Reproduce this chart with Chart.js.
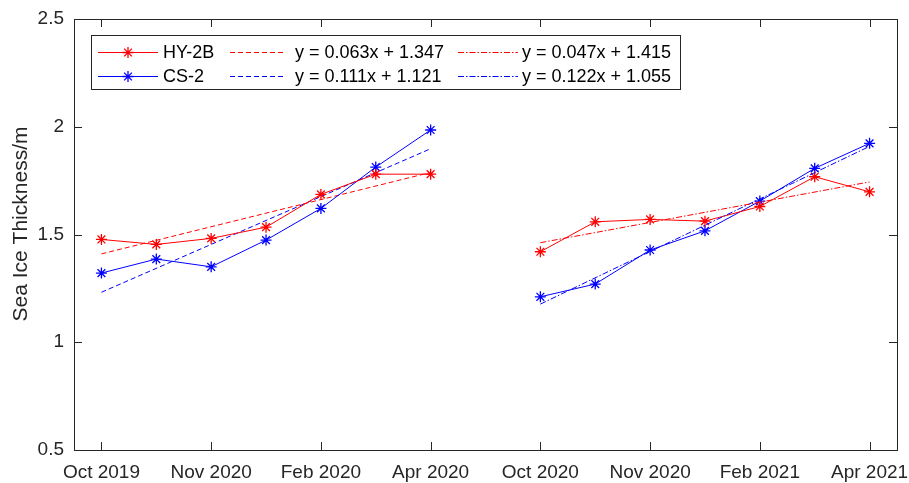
<!DOCTYPE html>
<html>
<head>
<meta charset="utf-8">
<script src="https://cdn.jsdelivr.net/npm/chart.js@4.4.1/dist/chart.umd.min.js"></script>
<style>
    html, body { margin: 0; padding: 0; background: #ffffff; overflow: hidden; }
    #wrap { width: 909px; height: 483px; position: relative; }
</style>
</head>
<body>
<div id="wrap"><canvas id="iceChart"></canvas></div>
<script>
// x positions are half-tick steps: 0..6 = first season, 8..14 = second season
const xFirst = [0, 1, 2, 3, 4, 5, 6];
const xSecond = [8, 9, 10, 11, 12, 13, 14];
const tickPositions = [0, 2, 4, 6, 8, 10, 12, 14];
const tickLabels = ['Oct 2019', 'Nov 2020', 'Feb 2020', 'Apr 2020', 'Oct 2020', 'Nov 2020', 'Feb 2021', 'Apr 2021'];

const hyFirst = [1.477, 1.454, 1.482, 1.534, 1.686, 1.780, 1.780];
const csFirst = [1.321, 1.386, 1.350, 1.474, 1.621, 1.813, 1.985];
const hySecond = [1.420, 1.559, 1.570, 1.562, 1.630, 1.768, 1.698];
const csSecond = [1.211, 1.270, 1.428, 1.517, 1.655, 1.807, 1.923];

// fitted trend lines, start and end values
const trendHyFirst = [1.410, 1.788];
const trendCsFirst = [1.232, 1.898];
const trendHySecond = [1.462, 1.744];
const trendCsSecond = [1.177, 1.909];

const RED = '#ff0000';
const BLUE = '#0000ff';
const AXIS = '#262626';
const FONT = '"Liberation Sans", Arial, Helvetica, sans-serif';
const DASH = [5, 3];
const DASHDOT = [6, 2, 1.5, 2];

function pts(xs, ys) {
    return xs.map((x, i) => ({ x: x, y: ys[i] }));
}
function ends(xs, ys) {
    return [{ x: xs[0], y: ys[0] }, { x: xs[xs.length - 1], y: ys[1] }];
}

function series(label, color, data) {
    return {
        label: label,
        data: data,
        borderColor: color,
        backgroundColor: color,
        borderWidth: 1,
        pointStyle: 'star',
        pointRadius: 5.5,
        pointBorderWidth: 1.3,
        pointBorderColor: color,
        pointHoverRadius: 5.5,
        tension: 0
    };
}
function trend(label, color, data, dash) {
    return {
        label: label,
        data: data,
        borderColor: color,
        borderWidth: 1,
        borderDash: dash,
        pointRadius: 0,
        pointHoverRadius: 0,
        tension: 0
    };
}

const datasets = [
    series('HY-2B', RED, pts(xFirst, hyFirst)),
    series('CS-2', BLUE, pts(xFirst, csFirst)),
    trend('y = 0.063x + 1.347', RED, ends(xFirst, trendHyFirst), DASH),
    trend('y = 0.111x + 1.121', BLUE, ends(xFirst, trendCsFirst), DASH),
    trend('y = 0.047x + 1.415', RED, ends(xSecond, trendHySecond), DASHDOT),
    trend('y = 0.122x + 1.055', BLUE, ends(xSecond, trendCsSecond), DASHDOT),
    series('HY-2B', RED, pts(xSecond, hySecond)),
    series('CS-2', BLUE, pts(xSecond, csSecond))
];

// legend layout: [dataset index, column, row]
const legendItems = [[0, 0, 0], [1, 0, 1], [2, 1, 0], [3, 1, 1], [4, 2, 0], [5, 2, 1]];
const legendCols = [{ x0: 98, x1: 158, tx: 163 }, { x0: 230, x1: 284, tx: 295 }, { x0: 458, x1: 518, tx: 522 }];

function drawStar(ctx, x, y, r) {
    const d = r * Math.SQRT1_2;
    ctx.beginPath();
    ctx.moveTo(x - r, y); ctx.lineTo(x + r, y);
    ctx.moveTo(x, y - r); ctx.lineTo(x, y + r);
    ctx.moveTo(x - d, y - d); ctx.lineTo(x + d, y + d);
    ctx.moveTo(x - d, y + d); ctx.lineTo(x + d, y - d);
    ctx.stroke();
}

const matlabBox = {
    id: 'matlabBox',
    afterDraw: (chart) => {
        const ctx = chart.ctx;
        const a = chart.chartArea;
        const xs = chart.scales.x;
        const ys = chart.scales.y;
        const tl = 8;
        ctx.save();
        ctx.strokeStyle = AXIS;
        ctx.lineWidth = 1;
        ctx.strokeRect(Math.round(a.left) + 0.5, Math.round(a.top) + 0.5,
            Math.round(a.right - a.left), Math.round(a.bottom - a.top));
        ctx.beginPath();
        xs.ticks.forEach(t => {
            const px = Math.round(xs.getPixelForValue(t.value)) + 0.5;
            ctx.moveTo(px, a.bottom); ctx.lineTo(px, a.bottom - tl);
            ctx.moveTo(px, a.top); ctx.lineTo(px, a.top + tl);
        });
        ys.ticks.forEach(t => {
            const py = Math.round(ys.getPixelForValue(t.value)) + 0.5;
            ctx.moveTo(a.left, py); ctx.lineTo(a.left + tl, py);
            ctx.moveTo(a.right, py); ctx.lineTo(a.right - tl, py);
        });
        ctx.stroke();

        // y axis title
        ctx.save();
        ctx.translate(21, 224);
        ctx.rotate(-Math.PI / 2);
        ctx.fillStyle = AXIS;
        ctx.font = '21px ' + FONT;
        ctx.textAlign = 'center';
        ctx.textBaseline = 'middle';
        ctx.fillText('Sea Ice Thickness/m', 0, 0);
        ctx.restore();

        // legend
        const bx = a.left + 17.5, by = a.top + 16.5;
        ctx.fillStyle = '#ffffff';
        ctx.fillRect(bx, by, 589, 54);
        ctx.strokeStyle = AXIS;
        ctx.strokeRect(bx, by, 589, 54);
        ctx.font = '18px ' + FONT;
        ctx.textBaseline = 'middle';
        ctx.textAlign = 'left';
        legendItems.forEach(([di, col, row]) => {
            const ds = chart.data.datasets[di];
            const c = legendCols[col];
            const y = Math.round(by + 16 + row * 24.5) + 0.5;
            ctx.strokeStyle = ds.borderColor;
            ctx.lineWidth = 1;
            ctx.setLineDash(ds.borderDash || []);
            ctx.beginPath();
            ctx.moveTo(c.x0, y); ctx.lineTo(c.x1, y);
            ctx.stroke();
            ctx.setLineDash([]);
            if (ds.pointRadius) {
                ctx.lineWidth = ds.pointBorderWidth;
                drawStar(ctx, (c.x0 + c.x1) / 2, y, ds.pointRadius);
            }
            ctx.fillStyle = '#000000';
            ctx.fillText(ds.label, c.tx, y + 1);
        });
        ctx.restore();
    }
};

new Chart(document.getElementById('iceChart'), {
    type: 'line',
    data: { datasets: datasets },
    plugins: [matlabBox],
    options: {
        responsive: true,
        maintainAspectRatio: false,
        animation: false,
        events: [],
        layout: { autoPadding: false, padding: { top: 19, right: 12, left: 0, bottom: 0 } },
        plugins: {
            legend: { display: false },
            tooltip: { enabled: false }
        },
        scales: {
            x: {
                type: 'linear',
                min: -0.5,
                max: 14.5,
                afterBuildTicks: (scale) => {
                    scale.ticks = tickPositions.map(v => ({ value: v }));
                },
                afterFit: (scale) => {
                    scale.height = 33;
                    scale.paddingLeft = 0;
                    scale.paddingRight = 0;
                },
                grid: { display: false, drawTicks: false },
                border: { display: false },
                ticks: {
                    autoSkip: false,
                    maxRotation: 0,
                    padding: 11,
                    color: AXIS,
                    font: { family: FONT, size: 19 },
                    callback: (v) => tickLabels[tickPositions.indexOf(v)]
                }
            },
            y: {
                min: 0.5,
                max: 2.5,
                afterFit: (scale) => {
                    scale.width = 74;
                    scale.paddingTop = 0;
                    scale.paddingBottom = 0;
                },
                grid: { display: false, drawTicks: false },
                border: { display: false },
                ticks: {
                    stepSize: 0.5,
                    padding: 10,
                    color: AXIS,
                    font: { family: FONT, size: 19 },
                    callback: (v) => String(+v.toFixed(1))
                }
            }
        }
    }
});
</script>
</body>
</html>
